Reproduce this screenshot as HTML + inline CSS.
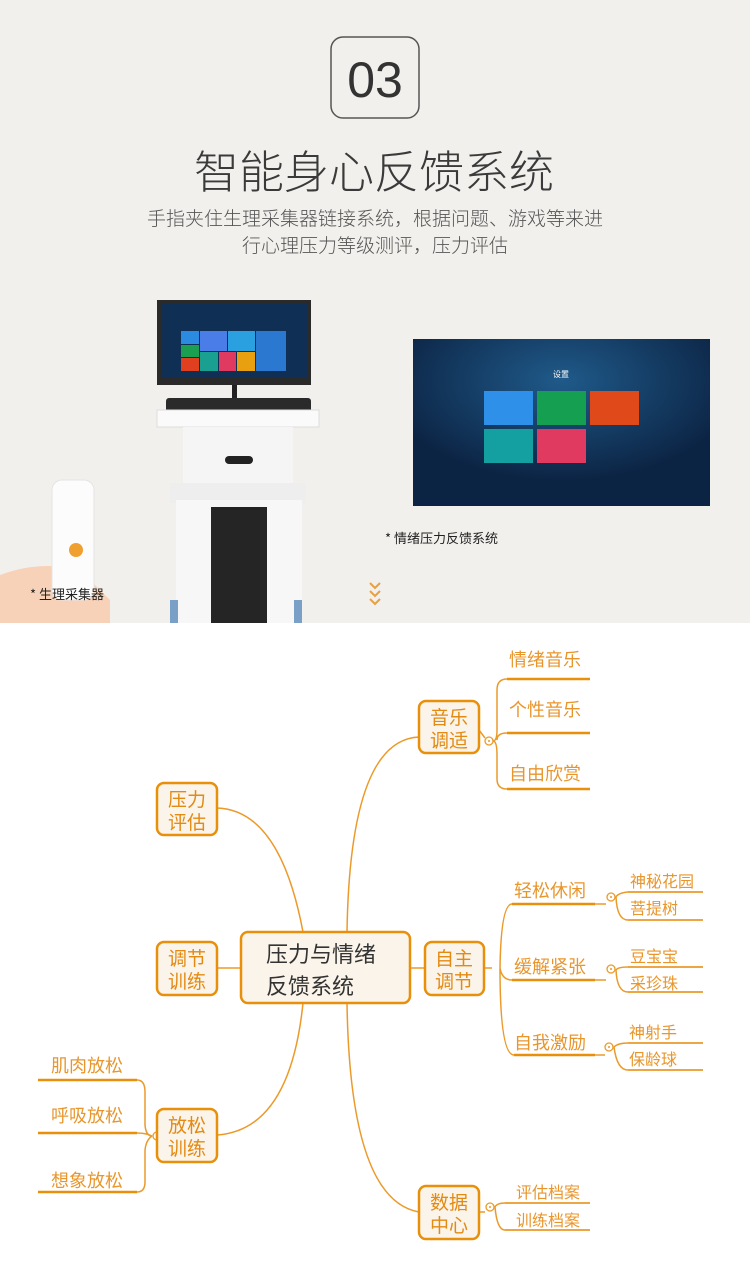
<!DOCTYPE html>
<html><head><meta charset="utf-8"><style>
body{margin:0;width:750px;height:1271px;overflow:hidden;background:#fff;font-family:"Liberation Sans","Noto Sans CJK SC",sans-serif}
svg{display:block}
</style></head><body>
<svg width="750" height="1271" viewBox="0 0 750 1271" xmlns="http://www.w3.org/2000/svg" font-family="Liberation Sans, Noto Sans CJK SC, sans-serif">
<rect x="0" y="0" width="750" height="623" fill="#f2f0ed"/>
<rect x="331" y="37" width="88" height="81" rx="12" fill="none" stroke="#555" stroke-width="1.5"/>
<text x="375" y="97" font-size="50" text-anchor="middle" fill="#333" font-weight="300">03</text>
<text x="374" y="188" font-size="45" text-anchor="middle" fill="#3a3a3a" font-family="Noto Sans CJK SC, sans-serif" font-weight="300">智能身心反馈系统</text>
<text x="375" y="225" font-size="19" text-anchor="middle" fill="#555" font-family="Noto Sans CJK SC, sans-serif" font-weight="300">手指夹住生理采集器链接系统，根据问题、游戏等来进</text>
<text x="375" y="252" font-size="19" text-anchor="middle" fill="#555" font-family="Noto Sans CJK SC, sans-serif" font-weight="300">行心理压力等级测评，压力评估</text>
<!-- kiosk -->
<rect x="157" y="300" width="154" height="85" fill="#2a2a2a"/>
<rect x="161" y="304" width="146" height="74" fill="#0f2f55"/>
<rect x="181" y="331" width="18" height="13" fill="#2b8be0"/><rect x="200" y="331" width="27" height="20" fill="#4a7de8"/><rect x="228" y="331" width="27" height="20" fill="#2ba0e0"/><rect x="256" y="331" width="30" height="40" fill="#2a78d0"/>
<rect x="181" y="345" width="18" height="12" fill="#1aa050"/><rect x="181" y="358" width="18" height="13" fill="#e04020"/>
<rect x="200" y="352" width="18" height="19" fill="#1aa090"/><rect x="219" y="352" width="17" height="19" fill="#e03a60"/><rect x="237" y="352" width="18" height="19" fill="#e8a010"/>
<rect x="232" y="385" width="5" height="15" fill="#222"/>
<rect x="166" y="398" width="145" height="16" fill="#2a2a2a" rx="3"/>
<rect x="157" y="410" width="162" height="17" fill="#fafafa" stroke="#ddd"/>
<rect x="183" y="427" width="110" height="56" fill="#f5f5f5"/>
<rect x="225" y="456" width="28" height="8" rx="4" fill="#222"/>
<rect x="170" y="483" width="136" height="20" fill="#eee"/>
<rect x="176" y="500" width="126" height="123" fill="#f7f7f7"/>
<rect x="211" y="507" width="56" height="116" fill="#252525"/>
<rect x="170" y="600" width="8" height="23" fill="#7aa0c8"/><rect x="294" y="600" width="8" height="23" fill="#7aa0c8"/>
<!-- finger device -->
<path d="M0 575 Q40 560 80 570 L110 600 L110 623 L0 623Z" fill="#f7d2b8"/>
<rect x="52" y="480" width="42" height="120" rx="10" fill="#fcfcfc" stroke="#e4e4e4"/>
<circle cx="76" cy="550" r="7" fill="#f0a030"/>
<text x="30" y="599" font-size="13" fill="#222" font-family="Noto Sans CJK SC, sans-serif">*  生理采集器</text>
<!-- screen -->
<defs><radialGradient id="g" cx="0.5" cy="0.25" r="0.6"><stop offset="0" stop-color="#1f5a8a"/><stop offset="1" stop-color="#0c2444"/></radialGradient></defs>
<rect x="413" y="339" width="297" height="167" fill="url(#g)"/>
<text x="561" y="377" font-size="8" fill="#fff" text-anchor="middle" font-family="Noto Sans CJK SC, sans-serif">设置</text>
<rect x="484" y="391" width="49" height="34" fill="#2e90e8"/><rect x="537" y="391" width="49" height="34" fill="#14a050"/><rect x="590" y="391" width="49" height="34" fill="#e04a1a"/>
<rect x="484" y="429" width="49" height="34" fill="#14a0a0"/><rect x="537" y="429" width="49" height="34" fill="#e03a60"/>
<text x="385" y="543" font-size="13" fill="#222" font-family="Noto Sans CJK SC, sans-serif">*  情绪压力反馈系统</text>
<path d="M370 583 l5 5 l5 -5 M370 591 l5 5 l5 -5 M370 599 l5 5 l5 -5" fill="none" stroke="#e8a040" stroke-width="2"/>

<!-- mindmap -->
<g fill="none" stroke="#eb9a2a" stroke-width="1.5">
<path d="M217 808 Q280 810 303 932"/>
<path d="M217 968 L241 968"/>
<path d="M217 1135 Q290 1130 303 1003"/>
<path d="M347 932 Q350 740 419 737"/>
<path d="M410 968 L425 968"/>
<path d="M347 1003 Q350 1200 419 1212"/>
<path d="M479 730 L485 738 M493 741 Q497 741 497 730 L497 690 Q497 679 507 679 M497 740 Q497 733 507 733 M493 741 Q497 741 497 755 L497 779 Q497 789 507 789"/>
<path d="M484 968 L492 968 M500 968 Q501 904 512 904 M500 968 Q502 980 512 980 M500 968 Q500 1055 514 1055"/>
<path d="M595 904 L606 904 M616 897 Q618 893 628 892 M616 897 Q617 920 628 920"/>
<path d="M595 980 L606 980 M616 970 Q618 967 628 967 M616 970 Q617 992 628 992"/>
<path d="M595 1055 L605 1055 M614 1047 Q618 1043 628 1043 M614 1047 Q617 1070 628 1070"/>
<path d="M152 1136 Q146 1136 145 1125 L145 1092 Q145 1080 137 1080 M152 1136 Q146 1133 137 1133 M152 1136 Q146 1140 145 1150 L145 1182 Q145 1192 137 1192 M162 1136 L157 1136"/>
<path d="M479 1212 L485 1212 M495 1207 Q497 1203 505 1203 M495 1207 Q497 1230 505 1230"/>
</g>
<g fill="#fff" stroke="#eb9a2a" stroke-width="1.3">
<circle cx="489" cy="741" r="4"/><circle cx="611" cy="897" r="4"/><circle cx="611" cy="969" r="4"/><circle cx="609" cy="1047" r="4"/><circle cx="157" cy="1136" r="4"/><circle cx="490" cy="1207" r="4"/>
</g>
<g fill="#eb9a2a" stroke="none"><circle cx="489" cy="741" r="1"/><circle cx="611" cy="897" r="1"/><circle cx="611" cy="969" r="1"/><circle cx="609" cy="1047" r="1"/><circle cx="157" cy="1136" r="1"/><circle cx="490" cy="1207" r="1"/></g>
<g stroke="#e8900a" stroke-width="2.5">
<line x1="507" y1="679" x2="590" y2="679"/><line x1="507" y1="733" x2="590" y2="733"/><line x1="507" y1="789" x2="590" y2="789"/>
<line x1="512" y1="904" x2="595" y2="904"/><line x1="512" y1="980" x2="595" y2="980"/><line x1="514" y1="1055" x2="595" y2="1055"/>
<line x1="38" y1="1080" x2="137" y2="1080"/><line x1="38" y1="1133" x2="137" y2="1133"/><line x1="38" y1="1192" x2="137" y2="1192"/>
</g>
<g stroke="#eb9a2a" stroke-width="1.8">
<line x1="628" y1="892" x2="703" y2="892"/><line x1="628" y1="920" x2="703" y2="920"/>
<line x1="628" y1="967" x2="703" y2="967"/><line x1="628" y1="992" x2="703" y2="992"/>
<line x1="628" y1="1043" x2="703" y2="1043"/><line x1="628" y1="1070" x2="703" y2="1070"/>
<line x1="505" y1="1203" x2="590" y2="1203"/><line x1="505" y1="1230" x2="590" y2="1230"/>
</g>
<g fill="#fbf4ea" stroke="#e8900a" stroke-width="2.5">
<rect x="241" y="932" width="169" height="71" rx="7"/>
<rect x="157" y="783" width="60" height="52" rx="7"/>
<rect x="157" y="942" width="60" height="53" rx="7"/>
<rect x="157" y="1109" width="60" height="53" rx="7"/>
<rect x="419" y="701" width="60" height="52" rx="7"/>
<rect x="425" y="942" width="59" height="53" rx="7"/>
<rect x="419" y="1186" width="60" height="53" rx="7"/>
</g>
<g font-family="Noto Sans CJK SC, sans-serif" fill="#333" font-size="22">
<text x="266" y="962">压力与情绪</text><text x="266" y="994">反馈系统</text>
</g>
<g font-family="Noto Sans CJK SC, sans-serif" fill="#e38a12" font-size="19" text-anchor="middle">
<text x="187" y="806">压力</text><text x="187" y="829">评估</text>
<text x="187" y="965">调节</text><text x="187" y="988">训练</text>
<text x="187" y="1132">放松</text><text x="187" y="1155">训练</text>
<text x="449" y="724">音乐</text><text x="449" y="747">调适</text>
<text x="454" y="965">自主</text><text x="454" y="988">调节</text>
<text x="449" y="1209">数据</text><text x="449" y="1232">中心</text>
</g>
<g font-family="Noto Sans CJK SC, sans-serif" fill="#e8962c" font-size="18">
<text x="509" y="666">情绪音乐</text><text x="509" y="716">个性音乐</text><text x="509" y="780">自由欣赏</text>
<text x="514" y="897">轻松休闲</text><text x="514" y="973">缓解紧张</text><text x="514" y="1049">自我激励</text>
<text x="51" y="1072">肌肉放松</text><text x="51" y="1122">呼吸放松</text><text x="51" y="1187">想象放松</text>
</g>
<g font-family="Noto Sans CJK SC, sans-serif" fill="#e8962c" font-size="16">
<text x="630" y="887">神秘花园</text><text x="630" y="914">菩提树</text>
<text x="630" y="962">豆宝宝</text><text x="630" y="989">采珍珠</text>
<text x="629" y="1038">神射手</text><text x="629" y="1065">保龄球</text>
<text x="516" y="1198">评估档案</text><text x="516" y="1226">训练档案</text>
</g>
</svg>
</body></html>
